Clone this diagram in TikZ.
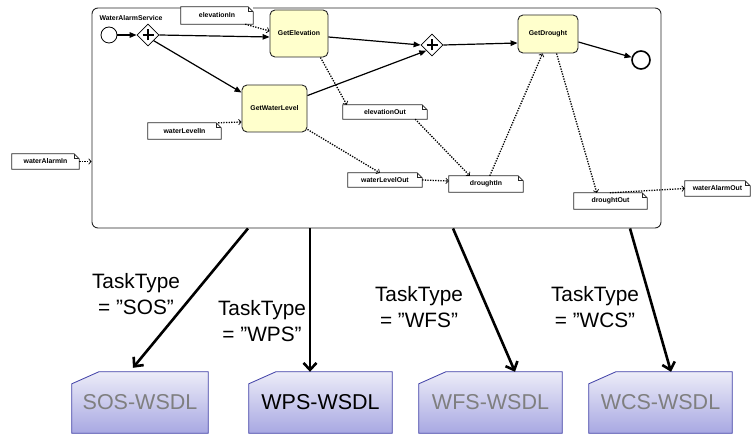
\documentclass[tikz,border=0pt]{standalone}
\usepackage{fontspec}
\setmainfont{Liberation Sans}
\usetikzlibrary{arrows.meta,shapes.geometric,backgrounds}
\definecolor{taskfill}{HTML}{FFFFCC}
\definecolor{wtop}{HTML}{ECECF8}
\definecolor{wbot}{HTML}{A8A8E2}
\definecolor{wborder}{HTML}{3E3EA6}
\definecolor{wtext}{HTML}{7F7F7F}
\newcommand\notepath[1]{%
  \draw[noteline] (#1.south west) -- (#1.north west) -- ([xshift=-5pt]#1.north east)
     -- ([yshift=-5pt]#1.north east) -- (#1.south east) -- cycle;
  \draw[noteline] ([xshift=-5pt]#1.north east) -- ([xshift=-5pt,yshift=-5pt]#1.north east)
     -- ([yshift=-5pt]#1.north east);}
\newcommand\wsdlpath[1]{%
  \shadedraw[top color=wtop, bottom color=wbot, draw=wborder, line width=0.8pt]
    ([yshift=-12pt]#1.north west) -- ([xshift=27pt]#1.north west) -- (#1.north east)
    -- (#1.south east) -- (#1.south west) -- cycle;}
\begin{document}
\begin{tikzpicture}[x=1pt,y=-1pt,
  tiny/.style={font=\fontsize{6.9}{7.5}\selectfont\bfseries},
  task/.style={draw=black!85, fill=taskfill, rounded corners=5pt, line width=0.9pt, tiny, inner sep=0pt},
  gate/.style={diamond, draw, fill=white, minimum width=22pt, minimum height=22pt, inner sep=0pt, line width=0.8pt},
  flow/.style={line width=1.2pt, -{Triangle[length=7pt,width=5.5pt]}},
  assoc/.style={line width=1.3pt, dash pattern=on 1.3pt off 1.3pt, -{Straight Barb[length=2.5pt,width=5.5pt,line width=0.7pt]}},
  notebox/.style={tiny, inner sep=0pt, fill=white},
  noteline/.style={draw=black!85, line width=0.8pt},
  wsdl/.style={inner sep=0pt, minimum height=61pt, font=\fontsize{21.5}{24}\selectfont},
  big/.style={line width=2.6pt, -{Straight Barb[length=7pt,width=13pt]}},
  lbl/.style={align=center, font=\fontsize{20.8}{26.5}\selectfont}]
\useasboundingbox (0,0) rectangle (752,435);

% frame
\node[draw=black!85, rounded corners=6pt, line width=0.9pt, minimum width=569pt, minimum height=220pt, inner sep=0pt] (frame) at (376.5,118) {};
\node[tiny, anchor=west] (title) at (96,18) {WaterAlarmService};

% events, gateways, tasks
\node[circle, draw, line width=0.8pt, minimum size=16pt, inner sep=0pt, fill=white] (st) at (109,35) {};
\node[circle, draw, line width=1.6pt, minimum size=18pt, inner sep=0pt, fill=white] (en) at (641,60) {};
\node[gate] (g1) at (148,35) {};
\node[gate] (g2) at (432,45) {};
\foreach \g in {g1,g2}{
  \draw[line width=1.4pt] ([xshift=-5.5pt]\g.center) -- ([xshift=5.5pt]\g.center);
  \draw[line width=1.4pt] ([yshift=-5.5pt]\g.center) -- ([yshift=5.5pt]\g.center);}
\node[task, minimum width=58pt, minimum height=47pt] (ge) at (299,33.5) {GetElevation};
\node[task, minimum width=65pt, minimum height=47pt] (gw) at (274.5,108.5) {GetWaterLevel};
\node[task, minimum width=60pt, minimum height=38pt] (gd) at (548,34) {GetDrought};

% data notes
\node[notebox, minimum width=72pt, minimum height=17pt] (ei) at (217,15.5) {elevationIn};
\node[notebox, minimum width=84pt, minimum height=14pt] (eo) at (385,112) {elevationOut};
\node[notebox, minimum width=73pt, minimum height=16pt] (wi) at (184.5,131) {waterLevelIn};
\node[notebox, minimum width=67pt, minimum height=15pt] (wai) at (45.5,161.5) {waterAlarmIn};
\node[notebox, minimum width=74pt, minimum height=14pt] (wo) at (385,180) {waterLevelOut};
\node[notebox, minimum width=74pt, minimum height=16pt] (di) at (486,184) {droughtIn};
\node[notebox, minimum width=73pt, minimum height=16pt] (do) at (610.5,201) {droughtOut};
\node[notebox, minimum width=65pt, minimum height=15pt] (wao) at (717.5,188.5) {waterAlarmOut};
\foreach \n in {ei,eo,wi,wai,wo,di,do,wao}{\notepath{\n}}

% sequence flows
\draw[flow] (st) -- (g1);
\draw[flow] (g1.east) -- ([yshift=-3.5pt]ge.west);
\draw[flow] (g1.south east) -- ([yshift=-8pt]gw.north west);
\draw[flow] ([yshift=-3.5pt]ge.east) -- (g2.west);
\draw[flow] ([yshift=-11pt]gw.north east) -- (g2.south west);
\draw[flow] (g2.east) -- ([yshift=-9pt]gd.west);
\draw[flow] ([yshift=-8pt]gd.east) -- (en);

% data associations
\draw[assoc] ([xshift=-8pt]ei.south east) -- ([yshift=2.5pt]ge.west);
\draw[assoc] ([xshift=-8pt]ge.south east) -- ([xshift=4pt]eo.north west);
\draw[assoc] ([xshift=-3pt]wi.north east) -- ([yshift=-13.5pt]gw.west);
\draw[assoc] ([yshift=3pt]gw.south east) -- ([xshift=32pt]wo.north west);
\draw[assoc] ([xshift=-12pt]eo.south east) -- ([xshift=21pt]di.north west);
\draw[assoc] (wo.east) -- ([yshift=3pt]di.west);
\draw[assoc] ([xshift=41pt]di.north west) -- ([xshift=25pt]gd.south west);
\draw[assoc] ([xshift=39pt]gd.south west) -- ([xshift=23pt]do.north west);
\draw[assoc] ([xshift=36pt]do.north west) -- (wao.west);
\draw[assoc] (wai.east) -- (wai.east -| frame.west);

% WSDL boxes
\node[wsdl, minimum width=136pt, text=wtext] (sos) at (140,402.5) {SOS-WSDL};
\node[wsdl, minimum width=143pt, text=black] (wps) at (320.5,402.5) {WPS-WSDL};
\node[wsdl, minimum width=143pt, text=wtext] (wfs) at (490.5,402.5) {WFS-WSDL};
\node[wsdl, minimum width=143pt, text=wtext] (wcs) at (660.5,402.5) {WCS-WSDL};
\begin{scope}[on background layer]
\foreach \w in {sos,wps,wfs,wcs}{\wsdlpath{\w}}
\end{scope}

% big arrows
\draw[big] ([xshift=-128.5pt]frame.south) -- ([xshift=-7pt,yshift=4pt]sos.north);
\draw[big] ([xshift=-66.5pt]frame.south) -- ([xshift=-10.5pt]wps.north);
\draw[big] ([xshift=76.5pt]frame.south) -- ([xshift=24.5pt]wfs.north);
\draw[big] ([xshift=253.5pt]frame.south) -- ([xshift=10.5pt]wcs.north);

% labels
\node[lbl] (l1) at (136,294) {TaskType\\= ”SOS”};
\node[lbl] (l2) at (262,321) {TaskType\\= ”WPS”};
\node[lbl] (l3) at (419,307) {TaskType\\= ”WFS”};
\node[lbl] (l4) at (595,307) {TaskType\\= ”WCS”};
\end{tikzpicture}
\end{document}
